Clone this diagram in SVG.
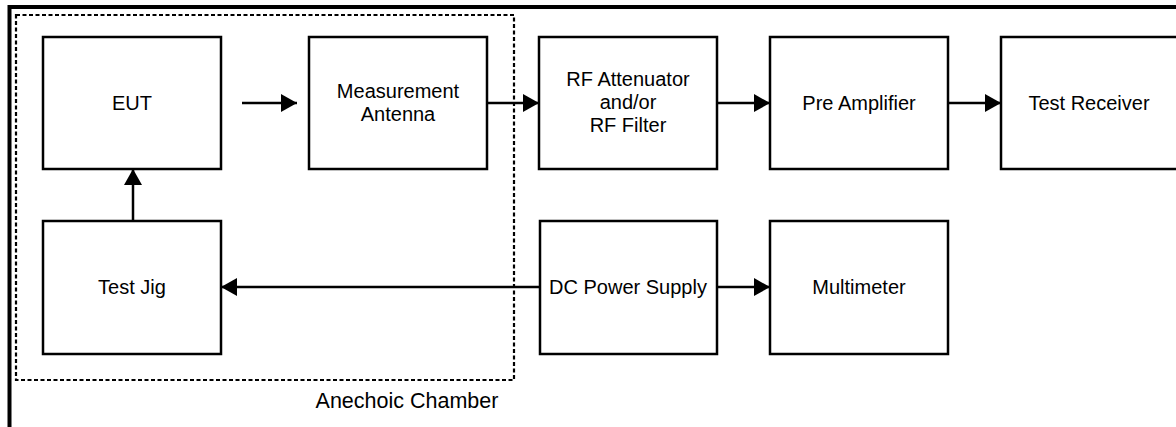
<svg xmlns="http://www.w3.org/2000/svg" width="1176" height="427" viewBox="0 0 1176 427">
<defs>
<style>
.box{fill:#fff;stroke:#000;stroke-width:2.5}
.t{font-family:"Liberation Sans",Arial,sans-serif;font-size:20px;fill:#000;text-anchor:middle}
.c{fill:none;stroke:#000;stroke-width:2.5}
</style>
<marker id="ah" markerUnits="userSpaceOnUse" markerWidth="17" markerHeight="18" refX="16" refY="9" orient="auto">
<path d="M0,0 L16,9 L0,18 z" fill="#000"/>
</marker>
</defs>
<rect width="1176" height="427" fill="#fff"/>
<path d="M9.5,430 L9.5,7 L1180,7" fill="none" stroke="#000" stroke-width="4"/>
<g id="chamber">
<rect x="16" y="15" width="498" height="365" fill="none" stroke="#000" stroke-width="2.2" stroke-dasharray="4 2.5"/>
<text x="407" y="408" font-family="'Liberation Sans',Arial,sans-serif" font-size="21.5px" text-anchor="middle">Anechoic Chamber</text>
</g>
<g id="eut"><rect class="box" x="43" y="37" width="178" height="132"/><text class="t" x="132" y="110">EUT</text></g>
<g id="antenna"><rect class="box" x="309" y="37" width="178" height="132"/><text class="t" x="398" y="98">Measurement</text><text class="t" x="398" y="121">Antenna</text></g>
<g id="attenuator"><rect class="box" x="539" y="37" width="178" height="132"/><text class="t" x="628" y="86">RF Attenuator</text><text class="t" x="628" y="109">and/or</text><text class="t" x="628" y="132">RF Filter</text></g>
<g id="preamp"><rect class="box" x="770" y="37" width="178" height="132"/><text class="t" x="859" y="110">Pre Amplifier</text></g>
<g id="receiver"><rect class="box" x="1001" y="37" width="178" height="132"/><text class="t" x="1089" y="110">Test Receiver</text></g>
<g id="testjig"><rect class="box" x="43" y="221" width="178" height="133"/><text class="t" x="132" y="294">Test Jig</text></g>
<g id="dcpsu"><rect class="box" x="540" y="221" width="177" height="133"/><text class="t" x="628" y="294">DC Power Supply</text></g>
<g id="multimeter"><rect class="box" x="770" y="221" width="178" height="133"/><text class="t" x="859" y="294">Multimeter</text></g>
<g id="connectors">
<line class="c" x1="242" y1="103" x2="297" y2="103" marker-end="url(#ah)"/>
<line class="c" x1="487" y1="103" x2="539" y2="103" marker-end="url(#ah)"/>
<line class="c" x1="717" y1="103" x2="770" y2="103" marker-end="url(#ah)"/>
<line class="c" x1="948" y1="103" x2="1001" y2="103" marker-end="url(#ah)"/>
<line class="c" x1="133" y1="221" x2="133" y2="169" marker-end="url(#ah)"/>
<line class="c" x1="540" y1="287" x2="221" y2="287" marker-end="url(#ah)"/>
<line class="c" x1="717" y1="287" x2="770" y2="287" marker-end="url(#ah)"/>
</g>
</svg>
